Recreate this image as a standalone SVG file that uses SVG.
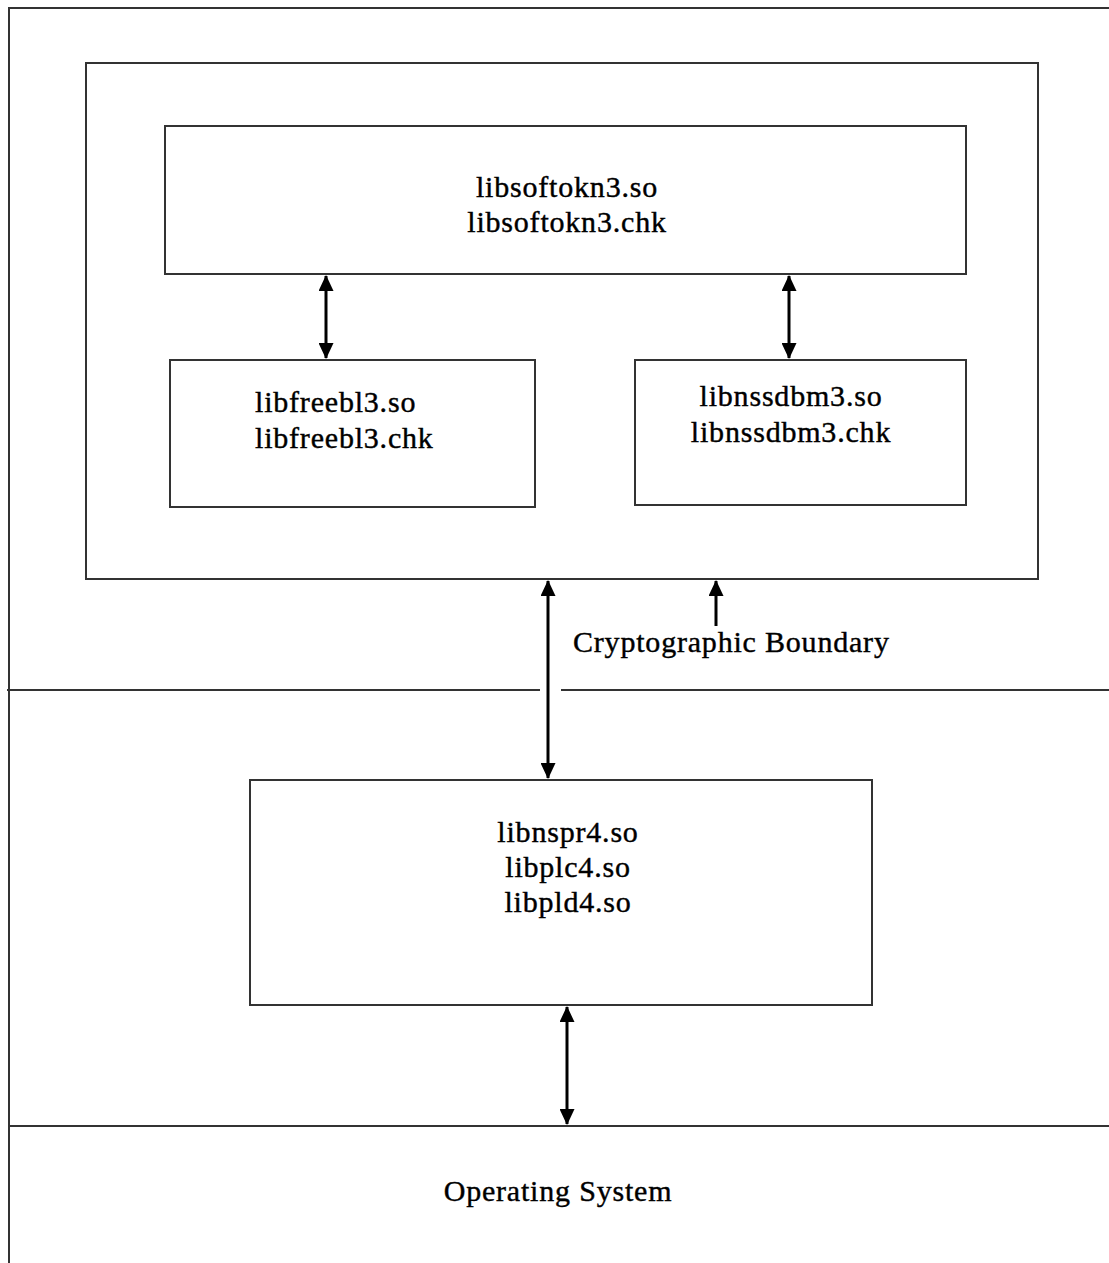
<svg xmlns="http://www.w3.org/2000/svg" width="1109" height="1263" viewBox="0 0 1109 1263">
<style>
.box{fill:#fff;stroke:#333;stroke-width:2}
.ln{stroke:#333;stroke-width:2;fill:none}
.t{font-family:"Liberation Serif","Times New Roman",serif;font-size:30px;letter-spacing:0.8px;fill:#000;stroke:#000;stroke-width:0.4}
.c{text-anchor:middle}
.arr{stroke:#000;stroke-width:3;fill:none;marker-start:url(#ah);marker-end:url(#ah)}
</style>
<defs>
<marker id="ah" viewBox="0 0 16 15" refX="15" refY="7.5" markerWidth="16" markerHeight="15" markerUnits="userSpaceOnUse" orient="auto-start-reverse">
<path d="M0,0 L16,7.5 L0,15 Z" fill="#000"/>
</marker>
</defs>
<rect width="1109" height="1263" fill="#fff"/>
<g id="frame">
<line class="ln" x1="9" y1="8" x2="9" y2="1263"/>
<line class="ln" x1="8" y1="8" x2="1109" y2="8"/>
<line class="ln" x1="7" y1="690" x2="540" y2="690"/>
<line class="ln" x1="561" y1="690" x2="1109" y2="690"/>
<line class="ln" x1="9" y1="1126" x2="1109" y2="1126"/>
</g>
<g id="crypto-boundary">
<rect class="box" x="86" y="63" width="952" height="516"/>
</g>
<g id="libsoftokn3">
<rect class="box" x="165" y="126" width="801" height="148"/>
<text class="t c" x="567" y="197">libsoftokn3.so</text>
<text class="t c" x="567" y="232">libsoftokn3.chk</text>
</g>
<g id="libfreebl3">
<rect class="box" x="170" y="360" width="365" height="147"/>
<text class="t" x="255" y="412">libfreebl3.so</text>
<text class="t" x="255" y="448">libfreebl3.chk</text>
</g>
<g id="libnssdbm3">
<rect class="box" x="635" y="360" width="331" height="145"/>
<text class="t c" x="791" y="406">libnssdbm3.so</text>
<text class="t c" x="791" y="442">libnssdbm3.chk</text>
</g>
<g id="libnspr4">
<rect class="box" x="250" y="780" width="622" height="225"/>
<text class="t c" x="568" y="842">libnspr4.so</text>
<text class="t c" x="568" y="877">libplc4.so</text>
<text class="t c" x="568" y="912">libpld4.so</text>
</g>
<g id="labels">
<text class="t" x="573" y="652">Cryptographic Boundary</text>
<text class="t c" x="558" y="1201">Operating System</text>
</g>
<g id="connectors">
<line class="arr" x1="326" y1="276" x2="326" y2="358"/>
<line class="arr" x1="789" y1="276" x2="789" y2="358"/>
<line class="arr" x1="548" y1="581" x2="548" y2="778"/>
<line class="arr" x1="567" y1="1007" x2="567" y2="1124"/>
<line stroke="#000" stroke-width="3" x1="716" y1="626" x2="716" y2="581" marker-end="url(#ah)"/>
</g>
</svg>
